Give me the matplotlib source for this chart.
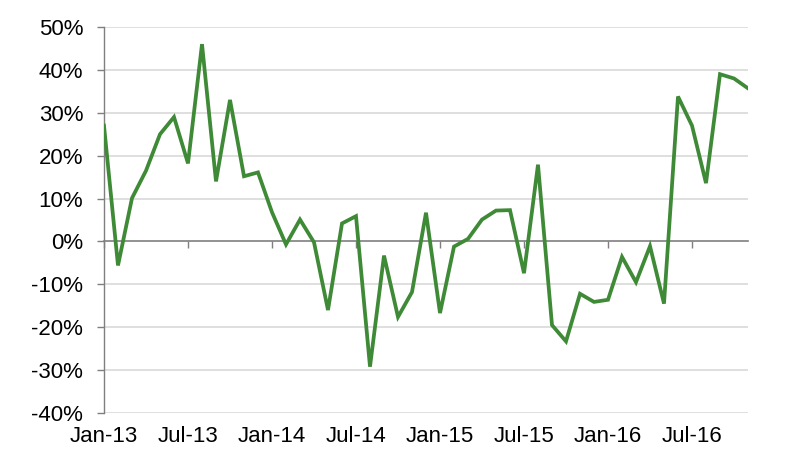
import numpy as np
import matplotlib
matplotlib.use('Agg')
import matplotlib.pyplot as plt

plt.rcParams['font.family'] = ['Liberation Sans', 'DejaVu Sans']

# monthly values, Jan-13 .. Nov-16 (%)
values = [27.0, -5.6, 10.1, 16.5, 25.0, 29.0, 18.2, 46.0, 14.0, 33.0,
          15.2, 16.1, 6.8, -0.7, 5.1, -0.2, -16.0, 4.2, 5.9, -29.2,
          -3.3, -17.6, -11.8, 6.7, -16.7, -1.2, 0.6, 5.1, 7.2, 7.3,
          -7.4, 17.9, -19.5, -23.3, -12.2, -14.1, -13.6, -3.6, -9.5, -1.1,
          -14.5, 33.8, 27.0, 13.6, 39.0, 38.0, 35.7]
tick_labels = ['Jan-13', 'Jul-13', 'Jan-14', 'Jul-14', 'Jan-15', 'Jul-15', 'Jan-16', 'Jul-16']
y_ticks = [-40, -30, -20, -10, 0, 10, 20, 30, 40, 50]

months = np.arange(len(values))
tick_pos = np.arange(len(tick_labels)) * 6

fig = plt.figure(figsize=(8, 4.72), dpi=100)
ax = fig.add_axes([0.13, 0.125, 0.805, 0.8178])

for y in y_ticks:
    if y != 0:
        ax.axhline(y, color='#d9d9d9', lw=1.2, zorder=1)

ax.plot(months, values, color='#3f8a36', lw=2.7, zorder=3, solid_joinstyle='miter')

ax.set_xlim(0, len(values) - 1)
ax.set_ylim(-40, 50)
ax.set_yticks(y_ticks)
ax.set_yticklabels([f'{y}%' for y in y_ticks])

ax.spines['top'].set_visible(False)
ax.spines['right'].set_visible(False)
ax.spines['left'].set_color('#7f7f7f')
ax.spines['left'].set_linewidth(1.0)
ax.spines['bottom'].set_position(('data', 0))
ax.spines['bottom'].set_color('#7f7f7f')
ax.spines['bottom'].set_linewidth(1.2)
ax.spines['bottom'].set_zorder(2)

ax.set_xticks(tick_pos)
ax.tick_params(axis='x', direction='out', length=5, width=1.0, color='#7f7f7f', labelbottom=False)
ax.tick_params(axis='y', direction='out', length=5, width=1.0, color='#7f7f7f', labelsize=16, pad=10)

sec = ax.secondary_xaxis('bottom')
sec.set_xticks(tick_pos)
sec.set_xticklabels(tick_labels)
sec.tick_params(length=0, labelsize=16, pad=9)
sec.spines['bottom'].set_visible(False)

fig.savefig('out.png', dpi=100)
